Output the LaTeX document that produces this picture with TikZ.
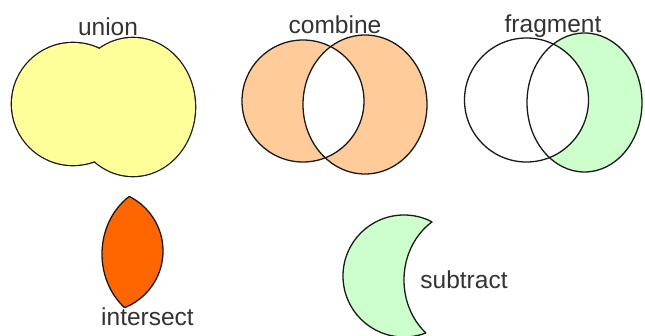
\documentclass[tikz,border=0pt]{standalone}
\usepackage{fontspec}
\setmainfont{Liberation Sans}
\definecolor{uyellow}{HTML}{FFFF99}
\definecolor{corange}{HTML}{FFCC99}
\definecolor{fgreen}{HTML}{CCFFCC}
\definecolor{iorange}{HTML}{FF6600}
\definecolor{edgec}{HTML}{1A1A1A}
\definecolor{txt}{HTML}{333333}
\begin{document}
\begin{tikzpicture}[x=1pt,y=-1pt,
  edge/.style={draw=edgec, line width=1.3pt},
  thickedge/.style={draw=edgec, line width=2.6pt},
  lbl/.style={anchor=base, text=txt, font=\fontsize{24.5}{28}\selectfont, inner sep=0pt}]
\useasboundingbox[fill=white] (0,0) rectangle (645,335);

% ---- union ----
\draw[thickedge] (73,104) circle (61pt);
\draw[thickedge] (133,107) ellipse (62pt and 69pt);
\fill[uyellow] (73,104) circle (61pt);
\fill[uyellow] (133,107) ellipse (62pt and 69pt);
\node[lbl] (union) at (108,35) {union};

% ---- combine ----
\fill[corange, even odd rule] (303,101) circle (61pt) (365,104.5) ellipse (62pt and 69.5pt);
\draw[edge] (303,101) circle (61pt);
\draw[edge] (365,104.5) ellipse (62pt and 69.5pt);
\node[lbl] (combine) at (335,33) {combine};

% ---- fragment ----
\fill[fgreen] (584.5,102.5) ellipse (57.5pt and 69.5pt);
\fill[white] (526.5,100) circle (62pt);
\draw[edge] (526.5,100) circle (62pt);
\draw[edge] (584.5,102.5) ellipse (57.5pt and 69.5pt);
\node[lbl] (fragment) at (553,32) {fragment};

% ---- intersect ----
\begin{scope}
  \clip (102,251) circle (61pt);
  \fill[iorange] (164,254) ellipse (62pt and 69.5pt);
  \draw[edge] (164,254) ellipse (62pt and 69.5pt);
\end{scope}
\begin{scope}
  \clip (164,254) ellipse (62pt and 69.5pt);
  \draw[edge] (102,251) circle (61pt);
\end{scope}
\node[lbl] (intersect) at (147.5,325) {intersect};

% ---- subtract ----
\filldraw[fill=fgreen, edge] (404,276) circle (61pt);
\fill[white] (466,280) ellipse (62pt and 69.5pt);
\begin{scope}
  \clip (404,276) circle (61pt);
  \draw[edge] (466,280) ellipse (62pt and 69.5pt);
\end{scope}
\node[lbl] (subtract) at (464,288) {subtract};
\end{tikzpicture}
\end{document}
